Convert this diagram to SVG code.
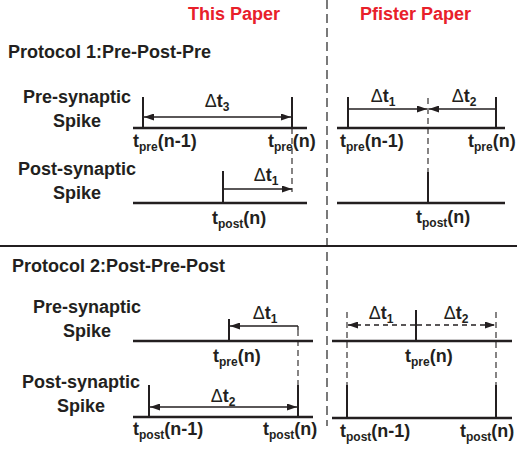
<svg xmlns="http://www.w3.org/2000/svg" width="517" height="449" viewBox="0 0 517 449">
<style>
text{font-family:"Liberation Sans",Arial,sans-serif;font-weight:bold;fill:#231f20;font-size:18px}
.red{fill:#e8202a}
.sub{font-size:12px}
.d{font-weight:normal}
.base{stroke:#231f20;stroke-width:2.5;fill:none}
.spk{stroke:#231f20;stroke-width:2;fill:none}
.arr{stroke:#231f20;stroke-width:1.3;fill:none}
.darr{stroke:#231f20;stroke-width:1.3;fill:none;stroke-dasharray:5 4}
.dash{stroke:#231f20;stroke-width:1.1;fill:none;stroke-dasharray:6 4}
.div{stroke:#333;stroke-width:1.3;fill:none;stroke-dasharray:9 5}
</style>
<defs>
<marker id="ah" viewBox="0 0 10 7" refX="10" refY="3.5" markerWidth="10" markerHeight="7" markerUnits="userSpaceOnUse" orient="auto-start-reverse"><path d="M0,0 L10,3.5 L0,7 z" fill="#231f20"/></marker>
</defs>
<rect width="517" height="449" fill="#fff"/>

<g id="headers">
<text class="red" x="188" y="20">This Paper</text>
<text class="red" x="360" y="20">Pfister Paper</text>
<text x="8" y="58">Protocol 1:Pre-Post-Pre</text>
<text x="12" y="272">Protocol 2:Post-Pre-Post</text>
</g>

<g id="dividers">
<line class="div" x1="327" y1="0" x2="327" y2="426"/>
<line x1="0" y1="246" x2="517" y2="246" stroke="#231f20" stroke-width="2"/>
</g>

<g id="row-labels">
<text x="77" y="103" text-anchor="middle">Pre-synaptic</text>
<text x="77" y="127" text-anchor="middle">Spike</text>
<text x="77" y="175" text-anchor="middle">Post-synaptic</text>
<text x="77" y="199" text-anchor="middle">Spike</text>
<text x="87" y="313" text-anchor="middle">Pre-synaptic</text>
<text x="87" y="337" text-anchor="middle">Spike</text>
<text x="81" y="388" text-anchor="middle">Post-synaptic</text>
<text x="81" y="412" text-anchor="middle">Spike</text>
</g>

<g id="p1-this">
<line class="base" x1="133" y1="128" x2="307" y2="128"/>
<line class="spk" x1="143" y1="97" x2="143" y2="128"/>
<line class="spk" x1="292" y1="97" x2="292" y2="128"/>
<line class="base" x1="133" y1="203" x2="307" y2="203"/>
<line class="spk" x1="223" y1="171" x2="223" y2="203"/>
<text x="133" y="147">t<tspan class="sub" dy="4">pre</tspan><tspan dy="-4">(n-1)</tspan></text>
<text x="268" y="147">t<tspan class="sub" dy="4">pre</tspan><tspan dy="-4">(n)</tspan></text>
<text x="212" y="224">t<tspan class="sub" dy="4">post</tspan><tspan dy="-4">(n)</tspan></text>
<text x="217" y="107" text-anchor="middle"><tspan class="d">Δ</tspan>t<tspan class="sub" dy="4">3</tspan></text>
<text x="266" y="181" text-anchor="middle"><tspan class="d">Δ</tspan>t<tspan class="sub" dy="4">1</tspan></text>
</g>

<g id="p1-pfister">
<line class="base" x1="337" y1="128" x2="505" y2="128"/>
<line class="spk" x1="348" y1="97" x2="348" y2="128"/>
<line class="spk" x1="496" y1="97" x2="496" y2="128"/>
<line class="base" x1="337" y1="203" x2="505" y2="203"/>
<line class="spk" x1="428" y1="172" x2="428" y2="203"/>
<text x="340" y="147">t<tspan class="sub" dy="4">pre</tspan><tspan dy="-4">(n-1)</tspan></text>
<text x="468" y="147">t<tspan class="sub" dy="4">pre</tspan><tspan dy="-4">(n)</tspan></text>
<text x="416" y="223">t<tspan class="sub" dy="4">post</tspan><tspan dy="-4">(n)</tspan></text>
<text x="383" y="102" text-anchor="middle"><tspan class="d">Δ</tspan>t<tspan class="sub" dy="4">1</tspan></text>
<text x="464" y="102" text-anchor="middle"><tspan class="d">Δ</tspan>t<tspan class="sub" dy="4">2</tspan></text>
</g>

<g id="p2-this">
<line class="base" x1="133" y1="341" x2="313" y2="341"/>
<line class="spk" x1="229" y1="319" x2="229" y2="341"/>
<line class="base" x1="133" y1="417" x2="313" y2="417"/>
<line class="spk" x1="149" y1="385" x2="149" y2="417"/>
<line class="spk" x1="298" y1="385" x2="298" y2="417"/>
<text x="213" y="362">t<tspan class="sub" dy="4">pre</tspan><tspan dy="-4">(n)</tspan></text>
<text x="133" y="435">t<tspan class="sub" dy="4">post</tspan><tspan dy="-4">(n-1)</tspan></text>
<text x="263" y="435">t<tspan class="sub" dy="4">post</tspan><tspan dy="-4">(n)</tspan></text>
<text x="265" y="319" text-anchor="middle"><tspan class="d">Δ</tspan>t<tspan class="sub" dy="4">1</tspan></text>
<text x="223" y="402" text-anchor="middle"><tspan class="d">Δ</tspan>t<tspan class="sub" dy="4">2</tspan></text>
</g>

<g id="p2-pfister">
<line class="base" x1="332" y1="341" x2="512" y2="341"/>
<line class="spk" x1="416" y1="310" x2="416" y2="341"/>
<line class="base" x1="332" y1="418" x2="512" y2="418"/>
<line class="spk" x1="347" y1="385" x2="347" y2="418"/>
<line class="spk" x1="496" y1="385" x2="496" y2="418"/>
<text x="405" y="362">t<tspan class="sub" dy="4">pre</tspan><tspan dy="-4">(n)</tspan></text>
<text x="340" y="437">t<tspan class="sub" dy="4">post</tspan><tspan dy="-4">(n-1)</tspan></text>
<text x="460" y="437">t<tspan class="sub" dy="4">post</tspan><tspan dy="-4">(n)</tspan></text>
<text x="381" y="319" text-anchor="middle"><tspan class="d">Δ</tspan>t<tspan class="sub" dy="4">1</tspan></text>
<text x="456" y="319" text-anchor="middle"><tspan class="d">Δ</tspan>t<tspan class="sub" dy="4">2</tspan></text>
</g>

<g id="connectors">
<line class="arr" x1="144" y1="117" x2="291" y2="117" marker-start="url(#ah)" marker-end="url(#ah)"/>
<line class="dash" x1="292" y1="128" x2="292" y2="192"/>
<line class="arr" x1="224" y1="189" x2="292" y2="189" marker-end="url(#ah)"/>
<line class="arr" x1="349" y1="109" x2="427" y2="109" marker-end="url(#ah)"/>
<line class="arr" x1="495" y1="109" x2="429" y2="109" marker-end="url(#ah)"/>
<line class="dash" x1="428" y1="98" x2="428" y2="172"/>
<line class="arr" x1="298" y1="326" x2="230" y2="326" marker-end="url(#ah)"/>
<line class="arr" x1="298" y1="326" x2="298" y2="330"/>
<line class="dash" x1="298" y1="330" x2="298" y2="385"/>
<line class="arr" x1="150" y1="407" x2="297" y2="407" marker-start="url(#ah)" marker-end="url(#ah)"/>
<line class="darr" x1="415" y1="325" x2="348" y2="325" marker-end="url(#ah)"/>
<line class="darr" x1="417" y1="325" x2="495" y2="325" marker-end="url(#ah)"/>
<line class="dash" x1="347" y1="312" x2="347" y2="385"/>
<line class="dash" x1="496" y1="312" x2="496" y2="385"/>
</g>
</svg>
